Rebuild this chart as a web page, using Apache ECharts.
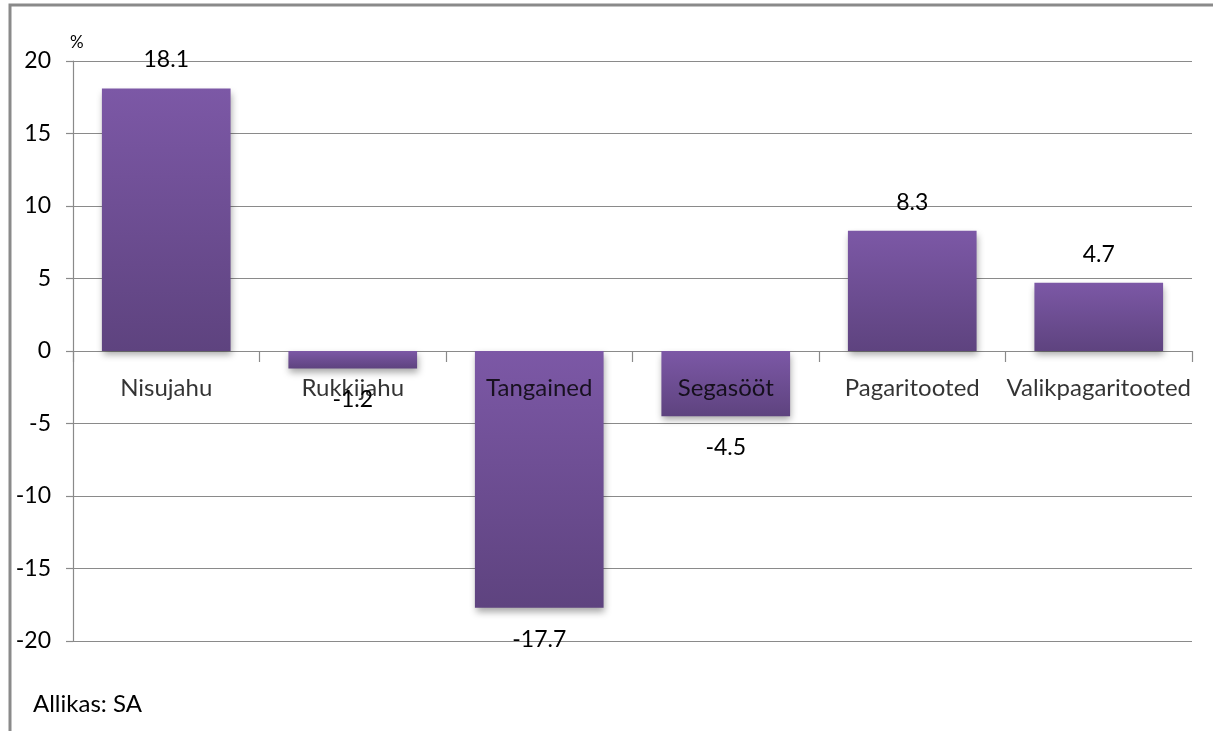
<!DOCTYPE html>
<html>
<head>
<meta charset="utf-8">
<script src="https://cdn.jsdelivr.net/npm/echarts@6/dist/echarts.min.js"></script>
<style>
html,body{margin:0;padding:0;background:#fff;}
#c{width:1213px;height:731px;}
</style>
</head>
<body>
<div id="c"></div>
<script>
var categories = ['Nisujahu', 'Rukkijahu', 'Tangained', 'Segasööt', 'Pagaritooted', 'Valikpagaritooted'];
var values = [18.1, -1.2, -17.7, -4.5, 8.3, 4.7];
var yTicks = {min: -20, max: 20, interval: 5};

var chart = echarts.init(document.getElementById('c'));
var font = 'Lato, "Open Sans", sans-serif';
var grey = '#8a8a8a';
chart.setOption({
  animation: false,
  backgroundColor: '#fff',
  grid: {left: 73, right: 21, top: 61, bottom: 90, containLabel: false},
  graphic: [
    {type: 'polyline', shape: {points: [[10, 740], [10, 5], [1220, 5]]}, style: {stroke: grey, lineWidth: 3, fill: null}, z: 100},
    {type: 'text', left: 33, top: 692, style: {text: 'Allikas: SA', font: '24px ' + font, fill: '#000'}}
  ],
  xAxis: {
    type: 'category',
    data: categories,
    axisLine: {onZero: true, lineStyle: {color: grey, width: 1.2}},
    axisTick: {show: true, length: 11, lineStyle: {color: grey, width: 1.2}},
    axisLabel: {show: false},
    splitLine: {show: false}
  },
  yAxis: {
    type: 'value',
    min: yTicks.min, max: yTicks.max, interval: yTicks.interval,
    name: '%',
    nameLocation: 'end',
    nameGap: 10,
    nameTextStyle: {fontSize: 17, fontFamily: font, color: '#000', align: 'left', padding: [0, 0, 0, -3]},
    axisLine: {show: true, lineStyle: {color: grey, width: 1.2}},
    axisTick: {show: true, length: 7, lineStyle: {color: grey, width: 1.2}},
    axisLabel: {margin: 22, fontSize: 23, fontFamily: font, color: '#000'},
    splitLine: {show: true, lineStyle: {color: grey, width: 1.2}}
  },
  series: [{
    type: 'bar',
    z: 2,
    data: values.map(function (v) {
      return v < 0 ? {value: v, label: {position: 'bottom', distance: 20}} : v;
    }),
    barCategoryGap: '31%',
    itemStyle: {
      color: {type: 'linear', x: 0, y: 0, x2: 0, y2: 1, colorStops: [
        {offset: 0, color: '#7c58a6'}, {offset: 1, color: '#5e437f'}
      ]},
      shadowColor: 'rgba(0,0,0,0.35)',
      shadowBlur: 7,
      shadowOffsetX: 1,
      shadowOffsetY: 4
    },
    label: {
      show: true,
      position: 'top',
      distance: 17,
      fontSize: 23,
      fontFamily: font,
      color: '#000',
      formatter: function (p) { return p.value.toFixed(1); }
    }
  }, {
    type: 'scatter',
    z: 5,
    symbolSize: 0,
    silent: true,
    data: categories.map(function (c) { return [c, 0]; }),
    label: {
      show: true,
      position: 'bottom',
      distance: 25,
      fontSize: 24,
      fontFamily: font,
      color: '#000',
      formatter: function (p) { return p.name || p.value[0]; }
    }
  }]
});
</script>
</body>
</html>
